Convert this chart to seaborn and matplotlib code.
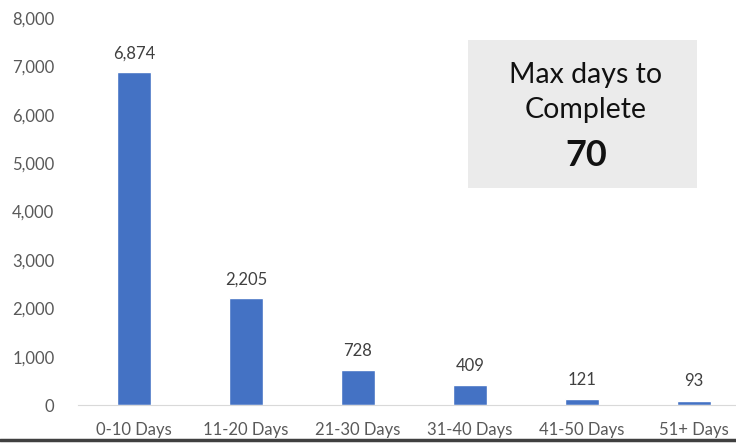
import matplotlib
matplotlib.use("Agg")
import matplotlib.pyplot as plt
import seaborn as sns
import pandas as pd
from matplotlib.lines import Line2D

categorias = ["0-10 Days", "11-20 Days", "21-30 Days", "31-40 Days", "41-50 Days", "51+ Days"]
cantidades = [6874, 2205, 728, 409, 121, 93]
max_dias = 70

data = pd.DataFrame({"Rango": categorias, "Cantidad": cantidades})

sns.set_style("white")
plt.rcParams["font.family"] = ["Lato", "DejaVu Sans"]

fig = plt.figure(figsize=(7.36, 4.43), dpi=100)
ax = fig.add_axes([78 / 736, 38 / 443, (736 - 78) / 736, (405 - 18) / 443])

sns.barplot(x="Rango", y="Cantidad", data=data, color="#4472C4", width=0.31,
            saturation=1, ax=ax)

ax.set_ylim(0, 8000)
ax.set_xlim(-0.5, 5.375)
ax.set_yticks(range(0, 8001, 1000))
ax.set_yticklabels([f"{v:,}" for v in range(0, 8001, 1000)])
ax.set_xlabel("")
ax.set_ylabel("")
for s in ["top", "right", "left"]:
    ax.spines[s].set_visible(False)
ax.spines["bottom"].set_color("#D9D9D9")
ax.tick_params(axis="both", length=0, labelsize=12, labelcolor="#595959")
ax.tick_params(axis="x", pad=12)
ax.tick_params(axis="y", pad=17)

ax.bar_label(ax.containers[0], labels=[f"{v:,}" for v in cantidades],
             padding=8, fontsize=12, color="#404040")

# caja con el maximo
fig.patches.append(plt.Rectangle((468 / 736, 1 - 188 / 443), (697 - 468) / 736, (188 - 40) / 443,
                                 transform=fig.transFigure, facecolor="#EBEBEB",
                                 edgecolor="none", zorder=0))
fig.text(586 / 736, 1 - 75 / 443, "Max days to", ha="center", va="center", fontsize=20.5, color="#111111")
fig.text(586 / 736, 1 - 110 / 443, "Complete", ha="center", va="center", fontsize=20.5, color="#111111")
fig.text(586 / 736, 1 - 156 / 443, str(max_dias), ha="center", va="center", fontsize=26,
         fontweight="bold", color="#111111")

fig.add_artist(Line2D([0, 1], [1 - 440 / 443, 1 - 440 / 443], transform=fig.transFigure,
                      color="#404040", linewidth=2.5))

plt.savefig("out.png", dpi=100)
